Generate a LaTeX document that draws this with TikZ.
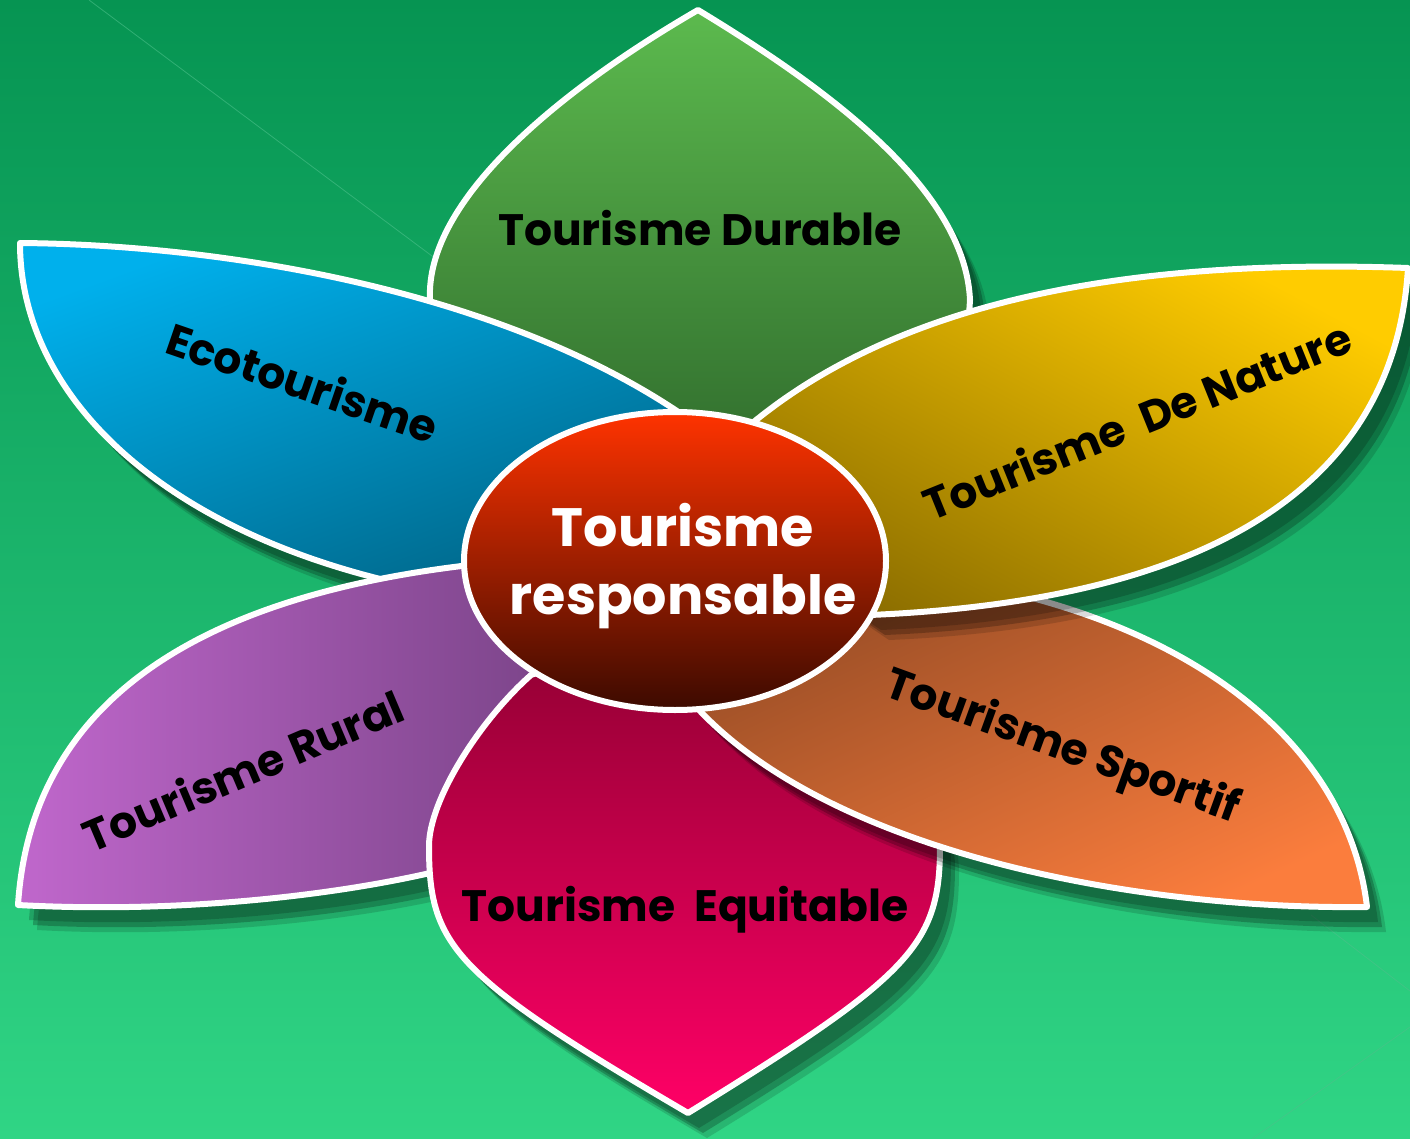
\documentclass[tikz,border=0pt]{standalone}
\usepackage{fontspec}
\setmainfont{Poppins}
\usetikzlibrary{shapes.geometric}
\definecolor{bgtop}{HTML}{069452}
\definecolor{bgbot}{HTML}{30D585}
\definecolor{grnL}{HTML}{5CBA4E}
\definecolor{grnD}{HTML}{2F6A2C}
\definecolor{bluL}{HTML}{00B0EC}
\definecolor{bluD}{HTML}{006688}
\definecolor{yelL}{HTML}{FFCC00}
\definecolor{yelD}{HTML}{8C6E00}
\definecolor{oraL}{HTML}{FB7D3D}
\definecolor{oraD}{HTML}{9A4E26}
\definecolor{pnkL}{HTML}{FF0066}
\definecolor{pnkD}{HTML}{8C0030}
\definecolor{purL}{HTML}{C067CC}
\definecolor{purD}{HTML}{7A4488}
\definecolor{redL}{HTML}{FF3300}
\definecolor{redD}{HTML}{3C0A00}
\definecolor{deco}{HTML}{4CC08A}
\newcommand\petalGreen[1]{\path[#1] (698,10) .. controls (560,90) and (425,200) .. (430,300) -- (560,480) -- (800,480) -- (966,360) -- (970,300) .. controls (965,190) and (830,90) .. cycle;}
\newcommand\petalBlue[1]{\path[#1] (20,243) .. controls (250,245) and (520,300) .. (690,420) -- (600,570) -- (430,590) .. controls (170,540) and (20,400) .. cycle;}
\newcommand\petalPurple[1]{\path[#1] (18,905) .. controls (30,720) and (170,600) .. (470,565) -- (560,700) -- (480,860) .. controls (380,890) and (200,915) .. cycle;}
\newcommand\petalPink[1]{\path[#1] (688,1113) .. controls (452,975) and (429,945) .. (429,846) .. controls (429,800) and (480,720) .. (531,675) -- (690,620) -- (850,690) .. controls (900,740) and (940,800) .. (940,846) .. controls (940,945) and (912,975) .. cycle;}
\newcommand\petalOrange[1]{\path[#1] (1367,907) .. controls (1350,760) and (1220,640) .. (1000,590) -- (800,600) -- (690,700) .. controls (820,850) and (1130,910) .. cycle;}
\newcommand\petalYellow[1]{\path[#1] (1408,268) .. controls (1130,258) and (900,300) .. (750,425) -- (700,500) -- (870,615) .. controls (1220,600) and (1395,480) .. cycle;}
\newcommand\petalShadow[1]{%
  #1{fill=black,opacity=0.18,shift={(11,15)}}%
  #1{fill=black,opacity=0.22,shift={(15,20)}}%
  #1{fill=black,opacity=0.14,shift={(19,25)}}}
\tikzset{
  rim/.style={draw=white,line width=6pt,line join=round},
  label/.style={font=\fontsize{44}{52}\selectfont\bfseries,text=black,inner sep=0pt},
}
\begin{document}
\begin{tikzpicture}[x=1pt,y=-1pt]
\useasboundingbox (0,0) rectangle (1410,1139);
\fill[top color=bgtop,bottom color=bgbot] (0,0) rectangle (1410,1139);
\coordinate (d1) at (89,0);
\coordinate (d2) at (440,262);
\coordinate (d3) at (1311,915);
\coordinate (d4) at (1410,991);
\coordinate (d5) at (1410,1027);
\coordinate (d6) at (1252,1139);
\draw[deco,line width=0.8pt,opacity=0.6] (d1) -- (d2);
\draw[deco,line width=0.8pt,opacity=0.6] (d3) -- (d4);
\draw[deco,line width=0.8pt,opacity=0.6] (d5) -- (d6);
% green
\petalShadow\petalGreen
\petalGreen{rim,top color=grnL,bottom color=grnD}
% blue
\petalShadow\petalBlue
\petalBlue{rim,top color=bluL,bottom color=bluD,shading angle=20}
% purple
\petalShadow\petalPurple
\petalPurple{rim,left color=purL,right color=purD}
% pink
\petalShadow\petalPink
\petalPink{rim,top color=pnkD,bottom color=pnkL}
% orange
\petalShadow\petalOrange
\petalOrange{rim,top color=oraD,bottom color=oraL,shading angle=25}
% yellow
\petalShadow\petalYellow
\petalYellow{rim,top color=yelL,bottom color=yelD,shading angle=-28}
% centre
\path[rim,top color=redL,bottom color=redD] (675,561) ellipse [x radius=211,y radius=149];
\node[align=center,font=\fontsize{54}{68}\selectfont\bfseries,text=white,inner sep=0pt] (ctr) at (683,566) {Tourisme\\responsable};
\node[label] (dur) at (700,228) {Tourisme Durable};
\node[label,rotate=-19] (eco) at (303,382) {Ecotourisme};
\node[label,rotate=22] (nat) at (1137,420) {Tourisme\ \ De Nature};
\node[label,rotate=-20] (spo) at (1062,748) {Tourisme Sportif};
\node[label] (equ) at (685,910) {Tourisme\ \ Equitable};
\node[label,rotate=23] (rur) at (243,770) {Tourisme Rural};
\end{tikzpicture}
\end{document}
